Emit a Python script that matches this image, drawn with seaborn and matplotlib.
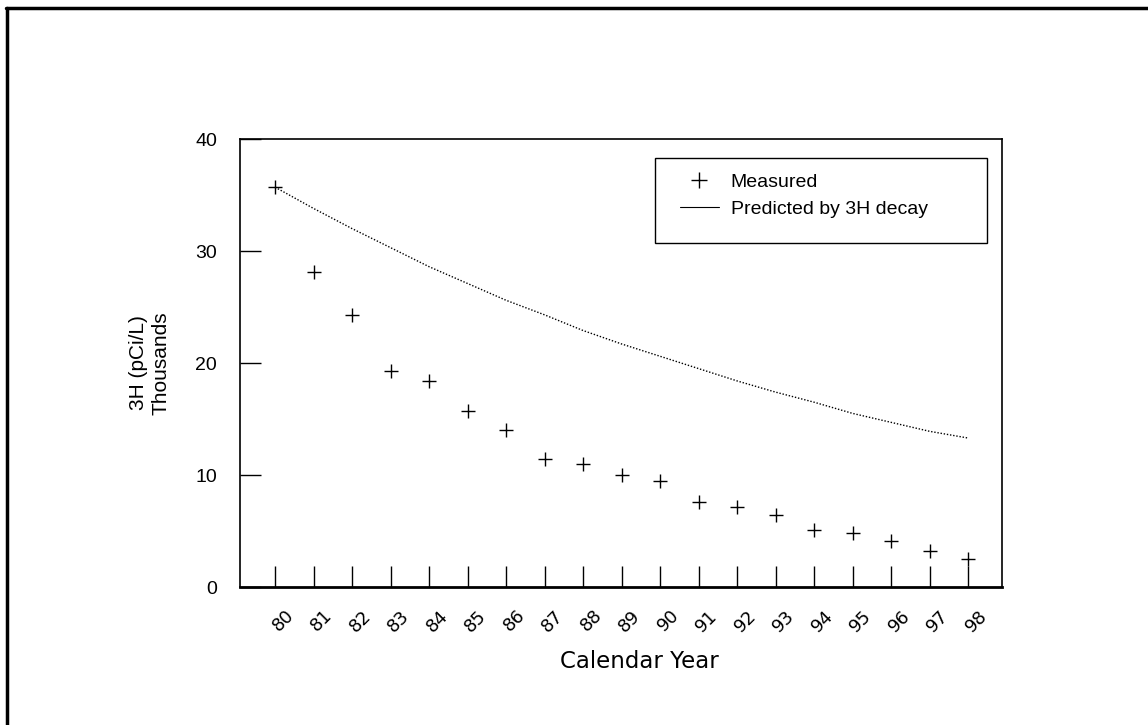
import matplotlib
matplotlib.use("Agg")
import matplotlib.pyplot as plt
import matplotlib.transforms as mtransforms
from matplotlib.lines import Line2D
from matplotlib.patches import Rectangle
import seaborn as sns
import pandas as pd

years = [80, 81, 82, 83, 84, 85, 86, 87, 88, 89, 90, 91, 92, 93, 94, 95, 96, 97, 98]
measured = [35.7, 28.1, 24.3, 19.3, 18.4, 15.7, 14.0, 11.4, 11.0, 10.0, 9.5,
            7.6, 7.1, 6.4, 5.1, 4.8, 4.1, 3.2, 2.5]
predicted = [35.7, 33.8, 32.0, 30.3, 28.6, 27.1, 25.6, 24.3, 22.9, 21.7, 20.6,
             19.5, 18.4, 17.4, 16.5, 15.5, 14.7, 13.9, 13.3]
y_ticks = [0, 10, 20, 30, 40]

df = pd.DataFrame({"year": years, "measured": measured, "predicted": predicted})

sns.set_theme(style="white")
plt.rcParams['font.family'] = ['Liberation Sans', 'DejaVu Sans']
plt.rcParams['text.color'] = 'black'
plt.rcParams['axes.labelcolor'] = 'black'
plt.rcParams['xtick.color'] = 'black'
plt.rcParams['ytick.color'] = 'black'

fig = plt.figure(figsize=(11.48, 7.25), dpi=100)
ax = fig.add_axes([240 / 1148, 1 - 587 / 725, 762 / 1148, 448 / 725])

sns.lineplot(data=df, x="year", y="predicted", ax=ax, color="black",
             linestyle=(0, (1, 1.3)), linewidth=1.0, label="Predicted by 3H decay")
sns.scatterplot(data=df, x="year", y="measured", ax=ax, marker="+", s=110,
                color="black", linewidth=1.0, label="Measured")

ax.set_xlim(79.09, 98.88)
ax.set_ylim(0, 40)
ax.set_yticks(y_ticks)
ax.set_xticks(years)
ax.tick_params(axis="both", which="major", direction="in", length=15, width=1.0,
               color="black", labelcolor="black", bottom=True, left=True,
               top=False, right=False)
ax.tick_params(axis="x", pad=14)
ax.tick_params(axis="y", pad=16.5, labelsize=14)
ax.set_xticklabels([str(y) for y in years], rotation=45, ha="center", va="top",
                   fontsize=13, family=["DejaVu Sans"])
offset = mtransforms.ScaledTranslation(8 / 100, 0, fig.dpi_scale_trans)
for lbl in ax.get_xticklabels():
    lbl.set_transform(lbl.get_transform() + offset)

for side in ["left", "bottom", "right", "top"]:
    ax.spines[side].set_visible(True)
    ax.spines[side].set_color("black")
    ax.spines[side].set_linewidth(1.2)
ax.spines["bottom"].set_linewidth(2.0)

ax.set_xlabel("Calendar Year", fontsize=16.5, family=["DejaVu Sans"])
ax.xaxis.label.set_va("center")
ax.xaxis.set_label_coords((639 - 240) / 762, -(662 - 587) / 448)
ax.set_ylabel("3H (pCi/L)\nThousands", fontsize=15)
ax.yaxis.label.set_va("center")
ax.yaxis.set_label_coords((150 - 240) / 762, 0.5)

# legend box (frame) and entries
ax.add_patch(Rectangle(((655 - 240) / 762, (587 - 243) / 448),
                       (987 - 655) / 762, (243 - 158) / 448,
                       transform=ax.transAxes, fill=False, edgecolor="black",
                       linewidth=1.0, zorder=4))
leg_handles = [Line2D([], [], color="black", marker="+", linestyle="none",
                      markersize=11, markeredgewidth=1.0),
               Line2D([], [], color="black", linewidth=0.8)]
leg = ax.legend(leg_handles, ["Measured", "Predicted by 3H decay"],
                loc="upper left",
                bbox_to_anchor=((680 - 240) / 762, (587 - 173) / 448),
                borderaxespad=0, borderpad=0, fontsize=14, frameon=False,
                handlelength=2.0, handletextpad=0.6, labelspacing=0.5)
for t in leg.get_texts():
    t.set_color("black")

# outer page frame (top and left edges visible)
fig.add_artist(Line2D([6 / 1148, 1.0], [1 - 8 / 725, 1 - 8 / 725],
                      transform=fig.transFigure, color="black", linewidth=2.5))
fig.add_artist(Line2D([7 / 1148, 7 / 1148], [0.0, 1 - 8 / 725],
                      transform=fig.transFigure, color="black", linewidth=2.5))

fig.savefig("out.png", dpi=100, facecolor="white")
